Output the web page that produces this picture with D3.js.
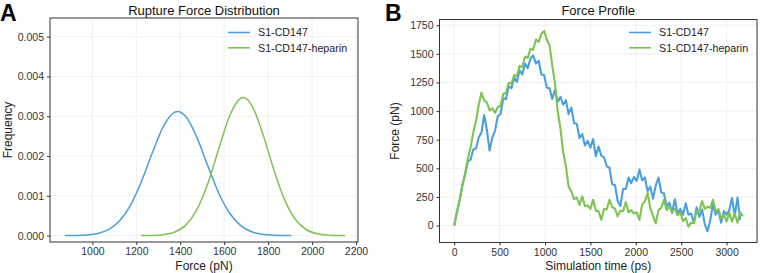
<!DOCTYPE html>
<html>
<head>
<meta charset="utf-8">
<script src="https://cdn.jsdelivr.net/npm/d3@7"></script>
<style>
  body { margin: 0; background: #fff; }
  svg { font-family: "Liberation Sans", Arial, sans-serif; }
</style>
</head>
<body>
<script>
// ---- data ----
const seriesNames = ["S1-CD147", "S1-CD147-heparin"];
const colors = ["#4A9FDC", "#7DC453"];

// Panel A: rupture force density curves
const forceBlue = [875, 925, 975, 1025, 1075, 1125, 1175, 1225, 1275, 1325, 1375, 1388, 1425, 1475, 1525, 1575, 1625, 1675, 1725, 1775, 1825, 1875, 1905];
const freqBlue = [0.000001, 0.0000045, 0.0000171, 0.000056, 0.000157, 0.000378, 0.000782, 0.001387, 0.002113, 0.002764, 0.003104, 0.00312, 0.002992, 0.002476, 0.00176, 0.001073, 0.000562, 0.000253, 0.000097, 0.000032, 0.0000092, 0.0000022, 0.0000009];
const forceGreen = [1222, 1275, 1325, 1375, 1425, 1475, 1525, 1575, 1625, 1675, 1686, 1725, 1775, 1825, 1875, 1925, 1975, 2025, 2075, 2125, 2150];
const freqGreen = [0.000001, 0.0000058, 0.000025, 0.00009, 0.000264, 0.000645, 0.001302, 0.002178, 0.003015, 0.003454, 0.00347, 0.003276, 0.002572, 0.001671, 0.000899, 0.0004, 0.000148, 0.000045, 0.0000114, 0.0000024, 0.000001];
const freqTicks = [0, 0.001, 0.002, 0.003, 0.004, 0.005];
const forceTicks = [1000, 1200, 1400, 1600, 1800, 2000, 2200];

// Panel B: force profiles, one sample every 30 ps
const stepPs = 30;
const profileBlue = [0, 118, 225, 352, 445, 560, 575, 665, 675, 770, 810, 965, 835, 655, 770, 830, 955, 975, 1110, 1105,
  1215, 1200, 1295, 1255, 1355, 1320, 1415, 1375, 1460, 1485, 1415, 1440, 1320, 1315, 1205, 1200, 1105, 1185, 1080, 1125,
  1055, 1095, 975, 1030, 895, 890, 765, 800, 700, 740, 680, 755, 605, 690, 610, 595, 520, 505, 360, 355,
  215, 170, 320, 320, 420, 370, 425, 390, 490, 395, 420, 300, 340, 235, 350, 420, 290, 280, 165, 200,
  110, 230, 105, 145, 95, 195, 95, 105, 25, 160, 75, 140, 10, -50, 45, 185, 95, 135, 25, 125,
  95, 135, 240, 85, 245, 50];
const profileGreen = [0, 120, 222, 350, 455, 585, 682, 812, 910, 1055, 1160, 1095, 1075, 1005, 1025, 985, 1035, 1045, 1150, 1160,
  1245, 1240, 1315, 1305, 1395, 1385, 1475, 1465, 1545, 1535, 1625, 1605, 1675, 1700, 1625, 1575, 1400, 1240, 1000, 850,
  640, 520, 340, 300, 230, 245, 180, 255, 170, 175, 145, 225, 130, 125, 50, 145, 140, 225, 160, 150,
  80, 130, 125, 205, 115, 135, 105, 115, 50, 185, 210, 285, 150, 85, 20, 135, 155, 225, 135, 165,
  125, 145, 90, 115, 40, 65, -10, 25, 20, 125, 125, 215, 145, 165, 155, 225, 125, 145, 65, 95,
  35, 115, 35, 105, 25, 115, 80];
const pnTicks = [0, 250, 500, 750, 1000, 1250, 1500, 1750];
const timeTicks = [0, 500, 1000, 1500, 2000, 2500, 3000];

// ---- drawing ----
const W = 760, H = 273;
const svg = d3.select("body").append("svg")
  .attr("width", W)
  .attr("height", H);

function panel(opts) {
  const g = svg.append("g");
  const x = d3.scaleLinear().domain(opts.xDomain).range([opts.left, opts.right]);
  const y = d3.scaleLinear().domain(opts.yDomain).range([opts.bottom, opts.top]);

  // grid
  g.append("g").selectAll("line").data(opts.xTicks).join("line")
    .attr("x1", d => x(d)).attr("x2", d => x(d))
    .attr("y1", opts.top).attr("y2", opts.bottom)
    .attr("stroke", "#ececec").attr("stroke-width", 0.8);
  g.append("g").selectAll("line").data(opts.yTicks).join("line")
    .attr("y1", d => y(d)).attr("y2", d => y(d))
    .attr("x1", opts.left).attr("x2", opts.right)
    .attr("stroke", "#ececec").attr("stroke-width", 0.8);

  // curves
  const clip = "clip" + opts.id;
  svg.append("clipPath").attr("id", clip).append("rect")
    .attr("x", opts.left).attr("y", opts.top)
    .attr("width", opts.right - opts.left).attr("height", opts.bottom - opts.top);
  const curves = g.append("g").attr("clip-path", `url(#${clip})`);
  opts.series.forEach((s, i) => {
    curves.append("path")
      .datum(s)
      .attr("fill", "none")
      .attr("stroke", colors[i])
      .attr("stroke-width", opts.strokeWidth)
      .attr("stroke-linejoin", "round")
      .attr("d", d3.line().x(d => x(d[0])).y(d => y(d[1])).curve(opts.curve));
  });

  // border
  g.append("rect")
    .attr("x", opts.left).attr("y", opts.top)
    .attr("width", opts.right - opts.left).attr("height", opts.bottom - opts.top)
    .attr("fill", "none").attr("stroke", "#333").attr("stroke-width", 1);

  // axes
  const xAxis = g.append("g")
    .attr("transform", `translate(0,${opts.bottom})`)
    .call(d3.axisBottom(x).tickValues(opts.xTicks).tickSize(3).tickPadding(3).tickFormat(d3.format("d")));
  const yAxis = g.append("g")
    .attr("transform", `translate(${opts.left},0)`)
    .call(d3.axisLeft(y).tickValues(opts.yTicks).tickSize(3).tickPadding(3).tickFormat(opts.yFormat));
  [xAxis, yAxis].forEach(a => {
    a.select(".domain").remove();
    a.selectAll(".tick line").attr("stroke", "#333");
    a.selectAll(".tick text").attr("fill", "#333").attr("font-size", 10.5)
      .attr("font-family", "Liberation Sans, Arial, sans-serif");
  });

  // titles
  const cx = (opts.left + opts.right) / 2;
  g.append("text").attr("x", cx).attr("y", 15).attr("text-anchor", "middle")
    .attr("font-size", 13).attr("fill", "#111").text(opts.title);
  g.append("text").attr("x", cx).attr("y", 270).attr("text-anchor", "middle")
    .attr("font-size", 12).attr("fill", "#222").text(opts.xLabel);
  g.append("text")
    .attr("transform", `translate(${opts.yLabelX},${(opts.top + opts.bottom) / 2}) rotate(-90)`)
    .attr("text-anchor", "middle").attr("font-size", 12).attr("fill", "#222").text(opts.yLabel);

  // panel letter
  g.append("text").attr("x", opts.letterX).attr("y", 21)
    .attr("font-size", 23).attr("font-weight", "bold").attr("fill", "#000")
    .attr("font-family", "Liberation Sans, Arial, sans-serif").text(opts.letter);

  // legend
  seriesNames.forEach((name, i) => {
    const ly = 32.5 + i * 15.3;
    g.append("line").attr("x1", opts.legendX).attr("x2", opts.legendX + 22)
      .attr("y1", ly).attr("y2", ly).attr("stroke", colors[i]).attr("stroke-width", 1.6);
    g.append("text").attr("x", opts.legendX + 30).attr("y", ly + 3.8)
      .attr("font-size", 10.7).attr("fill", "#222").text(name);
  });
}

panel({
  id: "A", letter: "A", letterX: 0,
  left: 50, right: 358, top: 18, bottom: 242,
  xDomain: [807, 2209], yDomain: [-0.00016, 0.00547],
  xTicks: forceTicks, yTicks: freqTicks, yFormat: d3.format(".3f"),
  series: [d3.zip(forceBlue, freqBlue), d3.zip(forceGreen, freqGreen)],
  curve: d3.curveMonotoneX, strokeWidth: 1.5,
  title: "Rupture Force Distribution", xLabel: "Force (pN)", yLabel: "Frequency", yLabelX: 12,
  legendX: 228
});

panel({
  id: "B", letter: "B", letterX: 385,
  left: 439.5, right: 757, top: 19.5, bottom: 242.5,
  xDomain: [-162, 3335], yDomain: [-148, 1800],
  xTicks: timeTicks, yTicks: pnTicks, yFormat: d3.format("d"),
  series: [profileBlue.map((v, i) => [i * stepPs, v]), profileGreen.map((v, i) => [i * stepPs, v])],
  curve: d3.curveLinear, strokeWidth: 2.1,
  title: "Force Profile", xLabel: "Simulation time (ps)", yLabel: "Force (pN)", yLabelX: 399,
  legendX: 629
});
</script>
</body>
</html>
